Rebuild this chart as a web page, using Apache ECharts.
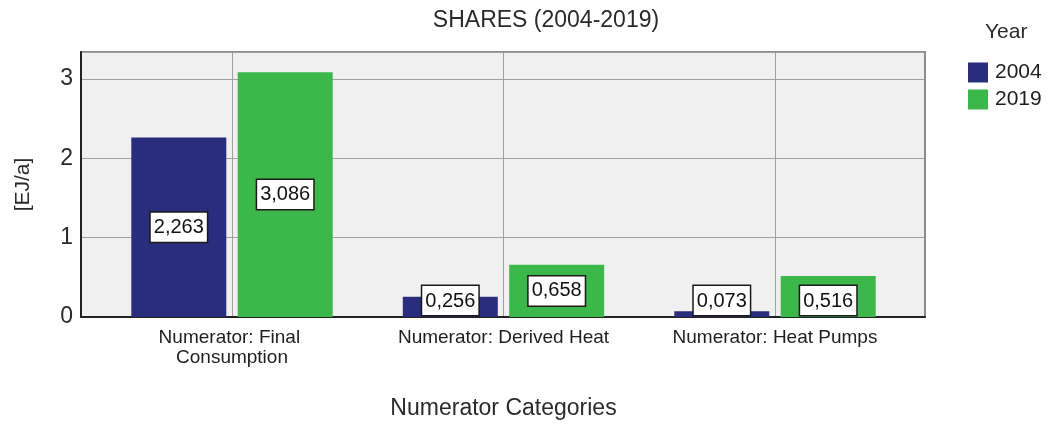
<!DOCTYPE html>
<html>
<head>
<meta charset="utf-8">
<script src="https://cdn.jsdelivr.net/npm/echarts@6/dist/echarts.min.js"></script>
<style>
html,body{margin:0;padding:0;background:#fff;}
#chart{width:1047px;height:425px;}
</style>
</head>
<body>
<div id="chart"></div>
<script>
const categories = ['Numerator: Final Consumption', 'Numerator: Derived Heat', 'Numerator: Heat Pumps'];
const seriesNames = ['2004', '2019'];
const values2004 = [2.263, 0.256, 0.073];
const values2019 = [3.086, 0.658, 0.516];
const yMin = 0;
const yMax = 3.34;
const yStep = 1;

const FONT = 'Liberation Sans, Arial, sans-serif';
const colors = ['#2a2d7c', '#3cb84a'];

function fmt(v) { return v.toFixed(3).replace('.', ','); }

function barData(vals) {
  return vals.map(v => ({
    value: v,
    label: v < 0.6 ? { position: 'insideBottom', distance: 2 } : { position: 'inside' }
  }));
}

const labelStyle = {
  show: true,
  formatter: p => fmt(p.value),
  fontFamily: FONT,
  fontSize: 20,
  color: '#111',
  backgroundColor: '#ffffff',
  borderColor: '#1a1a1a',
  borderWidth: 1.5,
  padding: [5, 3, 4, 3]
};

const chart = echarts.init(document.getElementById('chart'), null, { renderer: 'canvas' });
chart.setOption({
  animation: false,
  backgroundColor: '#ffffff',
  textStyle: { fontFamily: FONT },
  title: [
    { text: 'SHARES (2004-2019)', left: 541, top: 4, textAlign: 'center',
      textStyle: { fontFamily: FONT, fontSize: 23, fontWeight: 'normal', color: '#2a2a2a' } },
    { text: 'Year', left: 985, top: 22, padding: 0,
      textStyle: { fontFamily: FONT, fontSize: 21, fontWeight: 'normal', color: '#2a2a2a' } }
  ],
  legend: {
    data: seriesNames,
    orient: 'vertical',
    left: 968,
    top: 62,
    padding: 0,
    itemWidth: 20,
    itemHeight: 20,
    itemGap: 6,
    icon: 'rect',
    textStyle: { fontFamily: FONT, fontSize: 21, color: '#1e1e1e', padding: [0, 0, 0, 2] }
  },
  grid: [
    { left: 81, top: 52, width: 844, height: 265, show: true, backgroundColor: '#f0f0f0',
      borderColor: '#8c8c8c', borderWidth: 2, containLabel: false },
    { left: 96.25, top: 52, width: 814.5, height: 265, containLabel: false }
  ],
  xAxis: [
    { gridIndex: 0, type: 'category', data: [], axisLine: { show: true, lineStyle: { color: '#222', width: 2 } },
      axisTick: { show: false }, axisLabel: { show: false }, splitLine: { show: false } },
    { gridIndex: 1, type: 'category', data: categories, boundaryGap: true,
      axisLine: { show: false }, axisTick: { show: false },
      axisLabel: { fontFamily: FONT, fontSize: 19, color: '#1e1e1e', margin: 11, lineHeight: 20,
        width: 240, overflow: 'break', interval: 0 },
      splitLine: { show: true, alignWithLabel: true, lineStyle: { color: '#a0a0a0', width: 1 } },
      name: 'Numerator Categories', nameLocation: 'middle', nameGap: 80,
      nameTextStyle: { fontFamily: FONT, fontSize: 23, color: '#2a2a2a' } }
  ],
  yAxis: [
    { gridIndex: 0, type: 'value', min: yMin, max: yMax, interval: yStep,
      axisLine: { show: true, lineStyle: { color: '#222', width: 2 } },
      axisTick: { show: false },
      axisLabel: { fontFamily: FONT, fontSize: 23, color: '#2a2a2a', margin: 8, showMaxLabel: false,
        formatter: v => (Math.abs(v - Math.round(v)) < 1e-9 ? String(Math.round(v)) : '') },
      splitLine: { show: true, lineStyle: { color: '#a0a0a0', width: 1 } },
      name: '[EJ/a]', nameLocation: 'middle', nameGap: 47, nameRotate: 90,
      nameTextStyle: { fontFamily: FONT, fontSize: 21, color: '#2a2a2a' } },
    { gridIndex: 1, type: 'value', min: yMin, max: yMax, interval: yStep, show: false,
      splitLine: { show: false } }
  ],
  series: [
    { name: seriesNames[0], type: 'bar', xAxisIndex: 1, yAxisIndex: 1, data: barData(values2004),
      barWidth: 95, barGap: '12%', itemStyle: { color: colors[0] }, label: labelStyle },
    { name: seriesNames[1], type: 'bar', xAxisIndex: 1, yAxisIndex: 1, data: barData(values2019),
      barWidth: 95, barGap: '12%', itemStyle: { color: colors[1] }, label: labelStyle }
  ]
});
</script>
</body>
</html>
